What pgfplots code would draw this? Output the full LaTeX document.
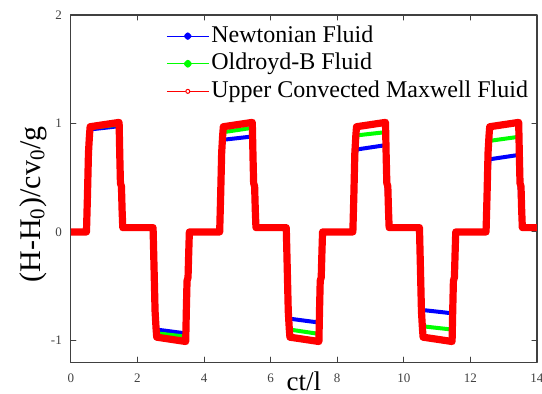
\documentclass[border=0pt]{standalone}
\usepackage{fontspec}
\setmainfont{Liberation Serif}
\usepackage{pgfplots}
\pgfplotsset{compat=1.18}
\definecolor{mblue}{RGB}{0,0,255}
\definecolor{mgreen}{RGB}{0,255,0}
\definecolor{mred}{RGB}{255,0,0}
\definecolor{axgray}{RGB}{64,64,64}
\begin{document}
\begin{tikzpicture}
\begin{axis}[
  name=ax,
  scale only axis,
  width=233pt, height=173.5pt,
  xmin=0, xmax=14, ymin=-1.2, ymax=2,
  xtick={0,2,...,14}, ytick={-1,0,1,2},
  tick align=inside,
  major tick length=2.5pt,
  axis line style={axgray, line width=0.6pt},
  every tick/.style={axgray, line width=0.5pt},
  tick label style={font=\fontsize{6.5}{7}\selectfont, text=black!75},
  /pgf/number format/assume math mode=true,
  xticklabel style={yshift=-2.5pt},
  yticklabel style={xshift=-1pt},
  xlabel={ct/l},
  xlabel style={font=\fontsize{13.5}{15}\selectfont, at={(axis description cs:0.5,-0.083)}, anchor=base},
  ylabel={(H-H\textsubscript{0})/cv\textsubscript{0}/g},
  ylabel style={font=\fontsize{15}{17}\selectfont, at={(axis description cs:-0.066,0.455)}, anchor=base},
  legend cell align=left,
  legend style={draw=none, fill=none, at={(axis description cs:0.204,0.976)}, anchor=north west,
    font=\fontsize{12}{13}\selectfont, inner sep=0pt, row sep=1.4pt,
    nodes={inner sep=0.6pt, inner xsep=1pt, text height=8.6pt, text depth=2.6pt}},
  line join=round, line cap=round,
]
\addplot[mblue, line width=2pt,
  legend image code/.code={\draw[mblue,line width=0.5pt] (0pt,0pt) -- (21pt,0pt); \fill[mblue] (10.5pt,0pt) circle (0.85pt);}] coordinates {
(0,0) (0.47,0) (0.5,0.33) (0.53,0.71) (0.56,0.87) (0.58,0.945) (1.45,0.975) (1.47,0.68) (1.49,0.44) (1.52,0.41) (1.54,0.2) (1.56,0.04)
(2.47,0.04) (2.5,-0.3) (2.53,-0.68) (2.56,-0.83) (2.58,-0.90) (3.45,-0.935) (3.47,-0.65) (3.49,-0.42) (3.52,-0.39) (3.54,-0.19) (3.56,0)
(4.47,0) (4.5,0.3) (4.53,0.64) (4.56,0.78) (4.58,0.85) (5.45,0.88) (5.47,0.62) (5.49,0.40) (5.52,0.37) (5.54,0.18) (5.56,0.04)
(6.47,0.04) (6.5,-0.28) (6.53,-0.6) (6.56,-0.74) (6.58,-0.80) (7.45,-0.835) (7.47,-0.58) (7.49,-0.38) (7.52,-0.35) (7.54,-0.17) (7.56,0)
(8.47,0) (8.5,0.27) (8.53,0.57) (8.56,0.70) (8.58,0.76) (9.45,0.80) (9.47,0.56) (9.49,0.36) (9.52,0.34) (9.54,0.16) (9.56,0.04)
(10.47,0.04) (10.5,-0.25) (10.53,-0.54) (10.56,-0.66) (10.58,-0.72) (11.45,-0.75) (11.47,-0.53) (11.49,-0.34) (11.52,-0.32) (11.54,-0.15) (11.56,0)
(12.47,0) (12.5,0.23) (12.53,0.5) (12.56,0.62) (12.58,0.67) (13.45,0.71) (13.47,0.5) (13.49,0.32) (13.52,0.3) (13.54,0.14) (13.56,0.04) (14,0.04)
};
\addlegendentry{Newtonian Fluid}
\addplot[mgreen, line width=2pt,
  legend image code/.code={\draw[mgreen,line width=0.5pt] (0pt,0pt) -- (21pt,0pt); \fill[mgreen] (10.5pt,0pt) circle (0.95pt);}] coordinates {
(0,0) (0.47,0) (0.5,0.34) (0.53,0.72) (0.56,0.88) (0.58,0.96) (1.45,0.99) (1.47,0.69) (1.49,0.45) (1.52,0.42) (1.54,0.2) (1.56,0.04)
(2.47,0.04) (2.5,-0.31) (2.53,-0.70) (2.56,-0.86) (2.58,-0.935) (3.45,-0.965) (3.47,-0.67) (3.49,-0.43) (3.52,-0.40) (3.54,-0.19) (3.56,0)
(4.47,0) (4.5,0.32) (4.53,0.69) (4.56,0.85) (4.58,0.92) (5.45,0.96) (5.47,0.67) (5.49,0.43) (5.52,0.40) (5.54,0.19) (5.56,0.04)
(6.47,0.04) (6.5,-0.31) (6.53,-0.67) (6.56,-0.83) (6.58,-0.90) (7.45,-0.94) (7.47,-0.66) (7.49,-0.42) (7.52,-0.39) (7.54,-0.19) (7.56,0)
(8.47,0) (8.5,0.31) (8.53,0.67) (8.56,0.82) (8.58,0.89) (9.45,0.92) (9.47,0.64) (9.49,0.41) (9.52,0.39) (9.54,0.18) (9.56,0.04)
(10.47,0.04) (10.5,-0.30) (10.53,-0.65) (10.56,-0.80) (10.58,-0.87) (11.45,-0.90) (11.47,-0.63) (11.49,-0.40) (11.52,-0.38) (11.54,-0.18) (11.56,0)
(12.47,0) (12.5,0.29) (12.53,0.63) (12.56,0.77) (12.58,0.84) (13.45,0.877) (13.47,0.61) (13.49,0.39) (13.52,0.37) (13.54,0.17) (13.56,0.04) (14,0.04)
};
\addlegendentry{Oldroyd-B Fluid}
\addplot[mred, line width=3.6pt,
  legend image code/.code={\draw[mred,line width=0.5pt] (0pt,0pt) -- (21pt,0pt); \draw[mred,fill=white,line width=0.5pt] (10.5pt,0pt) circle (1pt);}] coordinates {
(0,0) (0.47,0) (0.5,0.34) (0.53,0.73) (0.56,0.89) (0.58,0.97) (1.45,1.01) (1.47,0.71) (1.49,0.45) (1.52,0.42) (1.54,0.2) (1.56,0.04)
(2.47,0.04) (2.5,-0.34) (2.53,-0.73) (2.56,-0.89) (2.58,-0.97) (3.45,-1.01) (3.47,-0.71) (3.49,-0.45) (3.52,-0.42) (3.54,-0.2) (3.56,0)
(4.47,0) (4.5,0.34) (4.53,0.73) (4.56,0.89) (4.58,0.97) (5.45,1.01) (5.47,0.71) (5.49,0.45) (5.52,0.42) (5.54,0.2) (5.56,0.04)
(6.47,0.04) (6.5,-0.34) (6.53,-0.73) (6.56,-0.89) (6.58,-0.97) (7.45,-1.01) (7.47,-0.71) (7.49,-0.45) (7.52,-0.42) (7.54,-0.2) (7.56,0)
(8.47,0) (8.5,0.34) (8.53,0.73) (8.56,0.89) (8.58,0.97) (9.45,1.01) (9.47,0.71) (9.49,0.45) (9.52,0.42) (9.54,0.2) (9.56,0.04)
(10.47,0.04) (10.5,-0.34) (10.53,-0.73) (10.56,-0.89) (10.58,-0.97) (11.45,-1.01) (11.47,-0.71) (11.49,-0.45) (11.52,-0.42) (11.54,-0.2) (11.56,0)
(12.47,0) (12.5,0.34) (12.53,0.73) (12.56,0.89) (12.58,0.97) (13.45,1.01) (13.47,0.71) (13.49,0.45) (13.52,0.42) (13.54,0.2) (13.56,0.04) (14,0.04)
};
\addlegendentry{Upper Convected Maxwell Fluid}
\end{axis}
\pgfresetboundingbox
\path ([xshift=-35.4pt,yshift=-15.9pt]ax.south west) rectangle ([xshift=2.5pt,yshift=7.5pt]ax.north east);
\end{tikzpicture}
\end{document}
